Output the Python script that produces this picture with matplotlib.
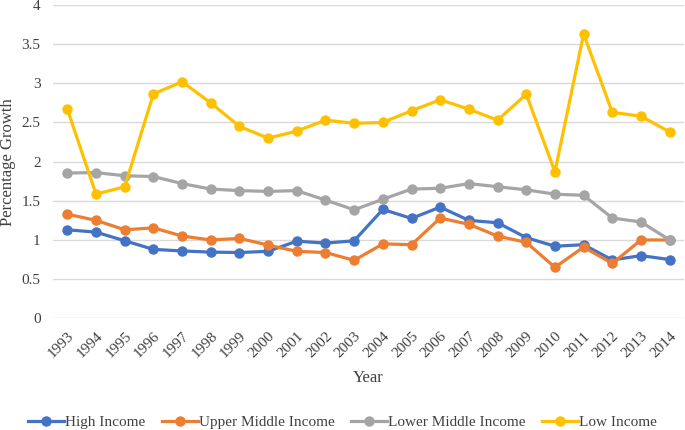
import matplotlib.pyplot as plt
import numpy as np

years = [str(y) for y in range(1993, 2015)]
high_income = [1.13, 1.10, 0.99, 0.88, 0.86, 0.845, 0.84, 0.855, 0.985, 0.96, 0.99,
               1.39, 1.275, 1.42, 1.25, 1.22, 1.03, 0.92, 0.94, 0.745, 0.80, 0.75]
upper_middle = [1.33, 1.25, 1.13, 1.155, 1.05, 1.00, 1.02, 0.935, 0.855, 0.84, 0.74,
                0.95, 0.94, 1.28, 1.20, 1.05, 0.97, 0.65, 0.91, 0.70, 1.00, 1.00]
lower_middle = [1.855, 1.86, 1.82, 1.81, 1.72, 1.65, 1.63, 1.62, 1.63, 1.51, 1.385,
                1.52, 1.65, 1.66, 1.72, 1.68, 1.64, 1.585, 1.57, 1.28, 1.23, 1.00]
low_income = [2.67, 1.585, 1.68, 2.865, 3.02, 2.75, 2.45, 2.30, 2.39, 2.53, 2.49,
              2.50, 2.65, 2.79, 2.67, 2.53, 2.86, 1.87, 3.63, 2.63, 2.58, 2.38]

series = [
    ("High Income", high_income, "#4472C4"),
    ("Upper Middle Income", upper_middle, "#ED7D31"),
    ("Lower Middle Income", lower_middle, "#A5A5A5"),
    ("Low Income", low_income, "#FFC000"),
]

plt.rcParams['font.family'] = ['Liberation Serif', 'DejaVu Serif']
text_col = "#404040"

fig = plt.figure(figsize=(6.85, 4.3), dpi=100)
ax = fig.add_axes([53 / 685, 111.7 / 430, 631 / 685, 313.3 / 430])

x = np.arange(len(years))
for name, vals, col in series:
    ax.plot(x, vals, color=col, linewidth=2.3, marker="o", markersize=6.5, label=name)

ax.set_xlim(-0.5, len(years) - 0.5)
ax.set_ylim(0, 4)
ax.set_yticks(np.arange(0, 4.01, 0.5))
ax.set_yticklabels(["0", "0.5", "1", "1.5", "2", "2.5", "3", "3.5", "4"])
ax.set_xticks(x)
ax.set_xticklabels(years, rotation=45, ha="right", rotation_mode="anchor")
ax.tick_params(axis="both", length=0, labelsize=11, colors=text_col)
ax.tick_params(axis="x", pad=8)
ax.tick_params(axis="y", pad=9)
ax.grid(axis="y", color="#D9D9D9", linewidth=1)
ax.set_axisbelow(True)
for s in ax.spines.values():
    s.set_visible(False)

ax.set_xlabel("Year", fontsize=12, color=text_col, va="center")
ax.xaxis.set_label_coords(0.5, (318.3 - 378) / 313.3)
ax.set_ylabel("Percentage Growth", fontsize=12, color=text_col, va="center")
ax.yaxis.set_label_coords((8 - 53) / 631, 0.5)

fig.legend(loc="center", ncol=4, frameon=False, fontsize=11,
           bbox_to_anchor=(0.5, 8 / 430), handlelength=2.35, handletextpad=0.1,
           columnspacing=1.05, labelcolor=text_col)

fig.savefig("out.png", dpi=100)
